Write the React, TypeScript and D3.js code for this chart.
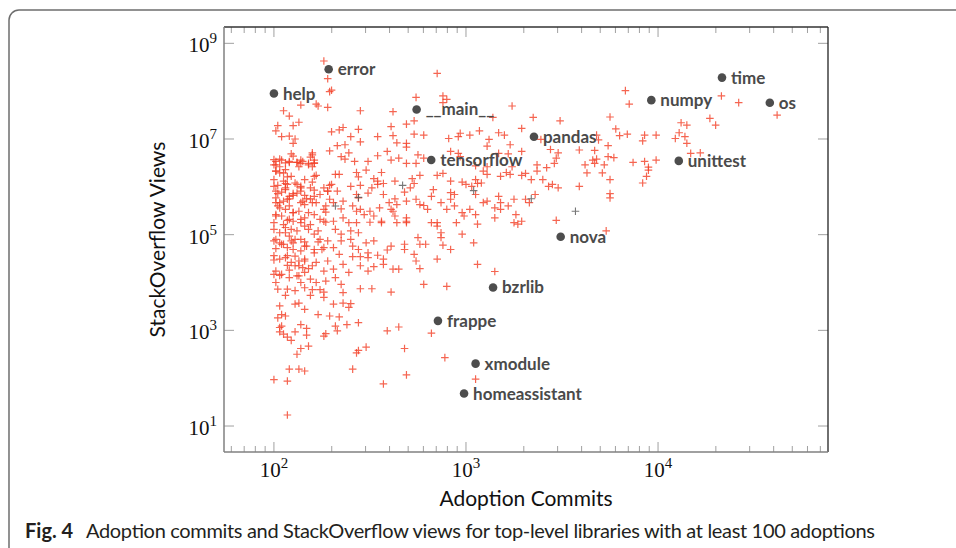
import React from 'react';
import * as d3 from 'd3';

// values are log10(adoption commits), log10(stackoverflow views)
const redPoints: [number, number][] = [
  [2.26,8.63],[2.28,8.26],[2.30,8.02],[2.29,7.99],[2.14,7.71],[2.22,7.73],[2.23,7.69],[2.28,7.66],[2.05,7.59],[2.08,7.48],
  [2.13,7.35],[2.10,7.28],[2.02,7.28],[2.01,7.17],[2.04,7.05],[2.08,7.06],[2.11,7.00],[2.10,6.91],[2.45,7.59],[2.62,7.57],
  [2.74,7.87],[2.73,7.38],[2.69,7.31],[2.61,7.26],[2.62,7.07],[2.73,7.10],[2.78,7.08],[2.64,6.92],[2.69,6.91],[2.69,6.83],
  [2.54,7.05],[2.44,7.20],[2.40,7.05],[2.45,6.94],[2.30,7.15],[2.34,7.19],[2.36,7.24],[2.33,6.86],[2.37,6.88],[2.29,6.75],
  [2.35,6.63],[2.39,6.71],[2.37,6.58],[2.42,6.53],[2.49,6.53],[2.54,6.65],[2.59,6.74],[2.61,6.56],[2.65,6.60],[2.69,6.49],
  [2.75,6.67],[2.74,6.49],[2.78,6.60],[2.09,6.69],[2.20,6.71],[2.19,6.62],[2.14,6.56],[2.12,6.51],[2.15,6.53],[2.18,6.49],
  [2.21,6.49],[2.08,6.51],[2.04,6.56],[2.01,6.53],[2.00,6.46],[2.03,6.42],[2.13,6.42],[2.20,6.42],
  [2.85,8.37],[2.88,7.90],[2.90,7.83],[2.88,7.76],[3.24,7.69],[3.14,7.45],[3.35,7.45],[3.49,7.38],[3.29,7.22],[3.83,8.01],
  [3.85,7.73],[3.75,7.46],[3.78,7.21],[3.80,7.07],[3.84,7.10],[2.91,7.01],[2.97,7.12],[2.96,7.05],[3.02,7.08],[3.07,7.17],
  [3.12,6.99],[3.11,6.85],[3.17,7.13],[3.20,7.08],[3.23,6.88],[3.39,6.99],[3.44,6.78],[3.48,6.71],[3.59,6.77],[3.68,7.08],
  [3.69,6.98],[3.74,6.86],[3.67,6.76],[3.66,6.56],[3.68,6.58],[3.74,6.63],[3.77,6.61],[3.72,6.46],[2.92,6.74],[2.96,6.70],
  [2.97,6.63],[3.17,6.70],[3.22,6.69],[3.29,6.74],[3.47,6.60],[3.46,6.49],[3.37,6.46],[3.42,6.40],[3.62,6.46],[3.67,6.49],
  [3.05,6.44],[3.11,6.42],[3.24,6.42],
  [4.33,7.90],[4.42,7.76],[4.62,7.50],[4.27,7.43],[4.30,7.29],[4.12,7.34],[4.15,7.29],[4.11,7.13],[4.09,7.01],[4.14,7.05],
  [4.15,6.91],[3.93,7.08],[3.92,6.96],[3.99,7.08],[4.17,6.70],[4.22,6.71],[3.87,6.51],[3.93,6.53],[3.99,6.56],[3.95,6.41],
  [3.94,6.22],[3.92,6.08],[3.95,6.35],
  [2.85,6.24],[2.88,6.28],[2.92,6.12],[2.98,6.10],[3.00,6.05],[3.05,6.15],[3.06,6.07],[3.08,6.08],[3.11,6.26],[3.09,6.33],
  [3.18,6.22],[3.21,6.30],[3.23,6.26],[3.29,6.24],[3.31,6.28],[3.34,6.15],[3.37,6.33],[3.40,6.15],[3.43,6.01],[3.45,6.05],
  [3.48,5.98],[3.36,5.84],[3.33,5.67],[3.31,5.74],[3.25,5.74],[3.22,5.60],[3.17,5.80],[3.18,5.67],[3.18,5.53],[3.15,5.56],
  [3.11,5.70],[3.09,5.67],[3.05,5.84],[3.03,6.01],[2.94,5.84],[2.92,5.88],[2.92,5.74],[2.87,5.67],[2.83,5.94],[2.82,5.80],
  [2.80,5.53],[2.90,5.53],[2.94,5.60],[2.99,5.39],[2.98,5.46],[3.02,5.53],[3.05,5.42],[2.85,5.25],[2.85,5.18],[2.87,5.04],
  [2.87,4.94],[2.82,5.25],[2.95,5.25],[2.98,5.01],[3.06,5.22],[3.15,5.35],[3.26,5.42],[3.25,5.25],[3.27,5.22],[3.29,5.28],
  [2.88,4.78],[2.92,4.69],[3.04,4.83],[2.85,4.49],[3.06,4.38],[3.15,4.23],[2.90,3.92],[3.47,5.30],[3.73,5.08],
  [3.59,6.01],[3.63,6.29],[3.71,6.29],[3.75,6.15],[3.75,5.86],[3.75,5.77],
  [2.01,6.33],[2.05,6.29],[2.07,6.21],[2.22,6.24],[2.32,6.26],[2.34,6.26],[2.43,6.30],[2.44,6.21],[2.48,6.35],[2.52,6.17],
  [2.54,6.12],[2.56,6.30],[2.57,6.07],[2.63,6.12],[2.72,6.17],[2.73,6.07],[2.76,6.24],
  [2.00,6.01],[2.02,6.03],[2.06,6.07],[2.06,5.98],[2.04,5.89],[2.12,6.05],[2.14,5.98],[2.16,5.82],[2.20,6.10],[2.21,5.93],
  [2.26,5.98],[2.28,5.91],[2.29,6.03],[2.30,6.05],[2.33,5.91],[2.36,5.70],[2.40,6.01],[2.45,6.03],[2.44,5.77],[2.43,5.84],
  [2.49,5.87],[2.51,5.98],[2.54,6.05],[2.57,5.84],[2.60,5.67],[2.63,5.75],[2.64,5.63],[2.68,5.89],[2.69,5.70],[2.71,5.98],
  [2.74,5.74],[2.76,5.63],[2.78,5.61],
  [2.01,5.77],[2.02,5.60],[2.03,5.67],[2.05,5.70],[2.08,5.75],[2.10,5.86],[2.10,5.82],[2.06,5.53],[2.10,5.46],[2.14,5.67],
  [2.16,5.63],[2.19,5.75],[2.20,5.67],[2.26,5.53],[2.27,5.47],[2.31,5.67],[2.35,5.54],[2.36,5.35],[2.41,5.60],[2.43,5.49],
  [2.45,5.53],[2.47,5.42],[2.50,5.49],[2.52,5.39],[2.55,5.56],[2.56,5.28],[2.61,5.53],[2.63,5.39],[2.69,5.35],[2.69,5.28],
  [2.62,5.49],
  [2.00,5.25],[2.01,5.39],[2.05,5.21],[2.08,5.32],[2.09,5.11],[2.06,5.04],[2.10,5.28],[2.14,5.32],[2.16,5.18],[2.19,5.21],
  [2.23,5.08],[2.26,5.28],[2.31,5.28],[2.32,5.11],[2.35,5.01],[2.39,5.25],[2.40,5.08],[2.43,5.25],[2.44,5.04],[2.50,5.26],
  [2.56,5.25],[2.64,5.25],[2.69,5.25],
  [2.00,4.87],[2.01,4.71],[2.03,4.83],[2.05,4.80],[2.09,4.87],[2.11,4.90],[2.10,4.69],[2.16,4.85],[2.16,4.76],[2.21,4.69],
  [2.23,4.85],[2.26,4.73],[2.28,4.87],[2.31,4.73],[2.34,4.59],[2.35,4.87],[2.40,4.90],[2.41,4.76],[2.44,4.69],[2.48,4.83],
  [2.49,4.62],[2.52,4.87],[2.49,4.52],[2.41,4.54],[2.45,4.54],[2.54,4.57],[2.59,4.68],[2.61,4.76],[2.57,4.49],[2.68,4.80],
  [2.68,4.69],[2.75,4.94],[2.76,4.80],[2.79,4.80],[2.73,4.59],
  [2.00,4.47],[2.06,4.52],[2.07,4.36],[2.11,4.55],[2.13,4.45],[2.16,4.49],[2.11,4.35],[2.15,4.31],[2.18,4.29],[2.28,4.45],
  [2.26,4.24],[2.31,4.28],[2.36,4.38],[2.39,4.21],[2.45,4.35],[2.49,4.24],[2.52,4.33],[2.57,4.38],[2.62,4.28],[2.65,4.28],
  [2.74,4.45],[2.76,4.29],
  [2.00,4.17],[2.03,4.15],[2.08,4.10],[2.13,4.14],[2.14,4.00],[2.19,4.07],[2.22,4.00],[2.27,4.03],[2.32,4.10],[2.35,3.96],
  [2.01,4.00],[2.02,3.86],[2.07,3.86],[2.06,3.73],[2.11,3.83],[2.16,3.89],[2.20,3.85],[2.26,3.80],[2.36,3.79],[2.45,3.87],
  [2.51,3.87],[2.61,3.80],[2.78,3.96],[2.19,3.73],[2.24,3.85],
  [2.03,3.51],[2.11,3.55],[2.13,3.57],[2.16,3.44],[2.26,3.69],[2.31,3.55],[2.36,3.57],[2.40,3.56],[2.39,3.48],
  [2.00,6.57],[2.01,6.46],[2.03,6.58],[2.06,6.50],[2.08,6.53],[2.10,6.64],[2.12,6.51],[2.14,6.49],[2.18,6.46],[2.20,6.67],
  [2.21,6.50],[2.21,6.56],[2.01,6.33],[2.03,6.29],[2.06,6.36],[2.09,6.22],[2.00,6.15],[2.05,6.12],[2.07,6.05],[2.11,6.08],
  [2.14,6.01],[2.16,6.15],[2.19,5.98],[2.21,6.22],[2.01,5.91],[2.02,5.86],[2.06,5.94],[2.08,5.80],[2.12,5.87],[2.14,5.91],
  [2.17,5.75],[2.21,5.80],[2.24,5.84],[2.28,5.91],[2.01,5.67],[2.03,5.56],[2.07,5.74],[2.08,5.60],[2.13,5.49],[2.15,5.70],
  [2.18,5.46],[2.22,5.67],[2.27,5.60],[2.29,5.74],[2.01,5.42],[2.04,5.39],[2.07,5.30],[2.10,5.46],[2.14,5.25],[2.16,5.35],
  [2.21,5.42],[2.24,5.32],[2.27,5.26],[2.00,5.11],[2.03,5.04],[2.06,5.15],[2.08,4.97],[2.12,5.08],[2.14,4.90],[2.18,5.11],
  [2.21,5.01],[2.24,4.90],[2.01,4.90],[2.04,4.80],[2.07,4.73],[2.10,4.83],[2.14,4.66],[2.17,4.76],[2.21,4.62],[2.25,4.69],
  [2.00,4.56],[2.03,4.49],[2.07,4.56],[2.09,4.42],[2.13,4.35],[2.16,4.45],[2.20,4.35],[2.22,4.42],[2.01,4.24],[2.04,4.17],
  [2.08,4.26],[2.12,4.14],[2.16,4.21],
  [2.02,3.26],[2.04,3.33],[2.06,3.30],[2.03,3.06],[2.04,3.09],[2.03,2.97],[2.05,2.92],[2.07,2.86],[2.09,2.79],[2.11,2.97],
  [2.14,3.12],[2.17,3.04],[2.17,2.90],[2.14,2.62],[2.12,2.50],[2.18,2.67],[2.23,3.33],[2.29,3.30],[2.34,3.28],[2.32,3.09],
  [2.33,2.99],[2.26,2.88],[2.27,2.93],[2.38,3.12],[2.44,3.16],[2.43,2.53],[2.44,2.58],[2.48,2.65],[2.41,2.19],[2.08,2.19],
  [2.13,2.19],[2.16,2.15],[2.00,1.97],[2.07,1.94],[2.07,1.23],[2.59,2.99],[2.65,3.07],[2.68,2.62],[2.69,2.07],[2.57,1.88],
  [2.82,2.94],[2.89,2.43],[3.05,1.98],
];

// a few dark grey markers mixed into the cloud
const darkPoints: [number, number][] = [
  [3.57,5.49],[2.44,5.78],[3.04,5.92],[2.67,6.03],[3.34,5.75],[2.32,5.60],
];

const labelNames = ['error','help','__main__','tensorflow','pandas','numpy','time','os','unittest','nova','bzrlib','frappe','xmodule','homeassistant'];
const labelCommits = [2.285,2.00,2.743,2.819,3.354,3.965,4.333,4.582,4.108,3.493,3.141,2.854,3.050,2.990];
const labelViews = [8.458,7.95,7.618,6.562,7.048,7.812,8.283,7.756,6.542,4.958,3.896,3.198,2.304,1.679];

const xMajor = [2, 3, 4];
const yMajor = [1, 3, 5, 7, 9];

const W = 956, H = 548;
const L = 224, R = 828, T = 27, B = 452;

export default function App() {
  const x = d3.scaleLog().domain([10 ** 1.74, 10 ** 4.885]).range([L, R]);
  const y = d3.scaleLog().domain([10 ** 0.457, 10 ** 9.341]).range([B, T]);
  const minor = x.ticks().filter(t => !xMajor.some(e => Math.abs(t - 10 ** e) < 1e-6));
  const plus = (px: number, py: number, s = 3.8) =>
    `M${px - s},${py}H${px + s}M${px},${py - s}V${py + s}`;
  const serif = '"Liberation Serif", "DejaVu Serif", serif';
  const sans = 'Lato, "Open Sans", sans-serif';
  const tickC = '#a0a0a0';

  return (
    <div style={{ position: 'absolute', left: 0, top: 0 }}>
      <svg width={W} height={H} style={{ display: 'block', background: '#fff' }}>
        <rect x={9} y={10} width={1000} height={600} rx={10} fill="none" stroke="#6e6e6e" strokeWidth={1.5} />

        {/* minor x ticks top and bottom */}
        <g stroke={tickC} strokeWidth={1}>
          {minor.map((t, i) => (
            <g key={i}>
              <line x1={x(t)} x2={x(t)} y1={T} y2={T + 6} />
              <line x1={x(t)} x2={x(t)} y1={B} y2={B - 6} />
            </g>
          ))}
          {xMajor.map(e => (
            <g key={e}>
              <line x1={x(10 ** e)} x2={x(10 ** e)} y1={T} y2={T + 10} />
              <line x1={x(10 ** e)} x2={x(10 ** e)} y1={B} y2={B - 10} />
            </g>
          ))}
          {yMajor.map(e => (
            <g key={e}>
              <line x1={L} x2={L + 10} y1={y(10 ** e)} y2={y(10 ** e)} />
              <line x1={R} x2={R - 10} y1={y(10 ** e)} y2={y(10 ** e)} />
            </g>
          ))}
        </g>

        {/* scatter */}
        <g fill="none" stroke="#f23f26" strokeWidth={1.2} strokeOpacity={0.8}>
          {redPoints.map(([c, v], i) => (
            <path key={i} d={plus(x(10 ** c), y(10 ** v))} />
          ))}
        </g>
        <g fill="none" stroke="#555" strokeWidth={1.1} strokeOpacity={0.8}>
          {darkPoints.map(([c, v], i) => (
            <path key={i} d={plus(x(10 ** c), y(10 ** v))} />
          ))}
        </g>

        {/* labelled libraries */}
        {labelNames.map((n, i) => {
          const cx = x(10 ** labelCommits[i]);
          const cy = y(10 ** labelViews[i]);
          return (
            <g key={n}>
              <circle cx={cx} cy={cy} r={4.3} fill="#4d4d4d" />
              <text x={cx + 9} y={cy + 6} fontFamily={sans} fontWeight={700} fontSize={17} fill="#4a4a4a">{n}</text>
            </g>
          );
        })}

        {/* frame */}
        <line x1={L} x2={R} y1={T} y2={T} stroke="#333" strokeWidth={1.3} />
        <line x1={R} x2={R} y1={T} y2={B} stroke="#222" strokeWidth={1.3} />
        <line x1={L} x2={L} y1={T} y2={B} stroke="#808080" strokeWidth={1.5} />
        <line x1={L} x2={R} y1={B} y2={B} stroke="#808080" strokeWidth={1.5} />

        {/* tick labels */}
        {yMajor.map(e => (
          <text key={e} x={217} y={y(10 ** e) + 9} textAnchor="end" fontFamily={serif} fontSize={21} fill="#111">
            10<tspan dy={-9} fontSize={15}>{e}</tspan>
          </text>
        ))}
        {xMajor.map(e => (
          <text key={e} x={x(10 ** e)} y={477} textAnchor="middle" fontFamily={serif} fontSize={21} fill="#111">
            10<tspan dy={-9} fontSize={15}>{e}</tspan>
          </text>
        ))}

        {/* axis titles */}
        <text transform={`translate(165,${(T + B) / 2}) rotate(-90)`} textAnchor="middle" fontFamily={sans} fontSize={21} fill="#111">
          StackOverflow Views
        </text>
        <text x={(L + R) / 2} y={506} textAnchor="middle" fontFamily={sans} fontSize={21} fill="#111">
          Adoption Commits
        </text>

        {/* caption */}
        <text x={25} y={538} fontFamily={sans} fontWeight={700} fontSize={20} fill="#231f20">Fig. 4</text>
        <text x={86} y={538} fontFamily={sans} fontSize={20} fill="#231f20" textLength={789} lengthAdjust="spacing">
          Adoption commits and StackOverflow views for top-level libraries with at least 100 adoptions
        </text>
      </svg>
    </div>
  );
}
